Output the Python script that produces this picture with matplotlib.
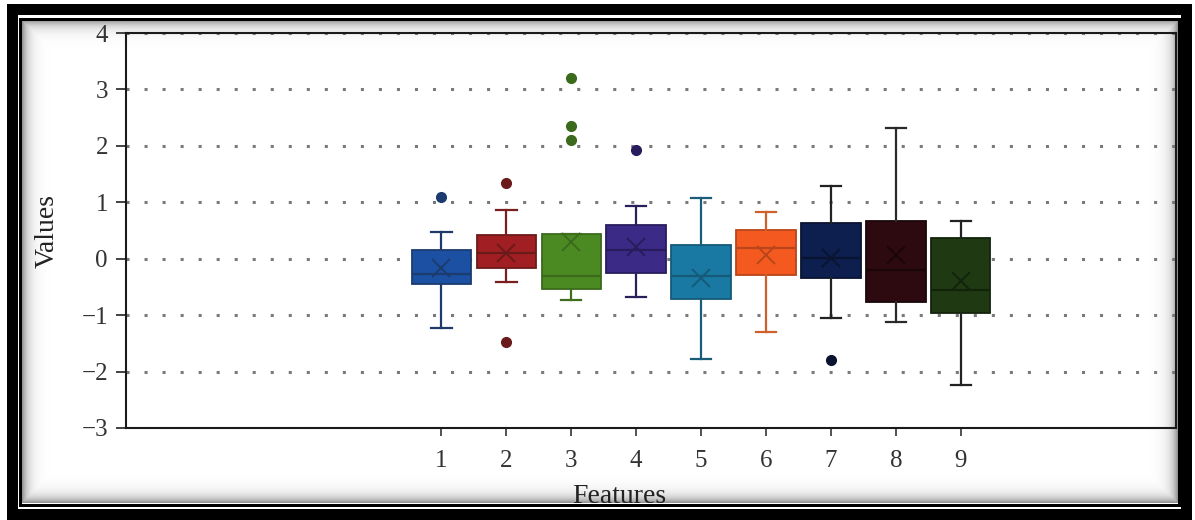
import numpy as np
import matplotlib
matplotlib.use('Agg')
import matplotlib.pyplot as plt
from matplotlib.patches import Rectangle

# box statistics
features = [1, 2, 3, 4, 5, 6, 7, 8, 9]
q1 = [-0.44, -0.17, -0.53, -0.25, -0.71, -0.28, -0.34, -0.77, -0.97]
med = [-0.27, 0.11, -0.31, 0.16, -0.31, 0.19, 0.02, -0.20, -0.55]
q3 = [0.16, 0.42, 0.43, 0.60, 0.24, 0.51, 0.64, 0.67, 0.36]
whislo = [-1.23, -0.41, -0.74, -0.68, -1.78, -1.30, -1.05, -1.12, -2.24]
whishi = [0.48, 0.87, 0.43, 0.93, 1.07, 0.82, 1.28, 2.32, 0.66]
means = [-0.17, 0.11, 0.30, 0.20, -0.35, 0.06, 0.02, 0.06, -0.40]
fliers = [[1.10], [1.35, -1.47], [3.21, 2.35, 2.10], [1.93], [], [], [-1.79], [], []]
yticks = [-3, -2, -1, 0, 1, 2, 3, 4]

fill_c = ['#1b50a3', '#a11f22', '#4b8a22', '#3b2a86', '#1a79a2',
          '#f45a1f', '#0c1f4e', '#2d0a0f', '#1f3a12']
edge_c = ['#1c3b6e', '#6b1a1a', '#3b6a1c', '#291c5c', '#155a78',
          '#b8461a', '#0a1430', '#1a0609', '#12230b']
whisk_c = ['#1e3b6a', '#7a1f1f', '#3f6e1f', '#2a1f5a', '#1b5c78',
           '#d0602a', '#222222', '#2a2a2a', '#222222']

plt.rcParams['font.family'] = ['Liberation Serif', 'DejaVu Serif']

fig = plt.figure(figsize=(11.95, 5.2), dpi=100)
W, H = 1195.0, 520.0

# soft grey shadow inside the frame
bg = fig.add_axes([22 / W, 1 - 503 / H, 1156 / W, 483 / H], zorder=0)
yy, xx = np.mgrid[0:483, 0:1156]
d = np.minimum(np.minimum(xx, 1155 - xx), np.minimum(yy, 482 - yy))
shade = 1 - 0.42 * np.exp(-d / 6.0)
bg.imshow(shade, cmap='gray', vmin=0, vmax=1, aspect='auto', interpolation='bilinear')
bg.axis('off')

ax = fig.add_axes([126 / W, 1 - 428 / H, 1050 / W, 395 / H], zorder=2)
ax.set_facecolor('none')

stats = []
for i in range(len(features)):
    stats.append(dict(med=med[i], q1=q1[i], q3=q3[i], whislo=whislo[i],
                      whishi=whishi[i], mean=means[i], fliers=fliers[i]))

for i, s in enumerate(stats):
    ax.bxp([s], positions=[features[i]], widths=0.91, patch_artist=True,
           showmeans=True, capwidths=0.32,
           boxprops=dict(facecolor=fill_c[i], edgecolor=edge_c[i], linewidth=1.3),
           medianprops=dict(color=edge_c[i], linewidth=1.6),
           whiskerprops=dict(color=whisk_c[i], linewidth=1.6),
           capprops=dict(color=whisk_c[i], linewidth=1.6),
           meanprops=dict(marker='x', markeredgecolor=edge_c[i], markersize=13,
                          markeredgewidth=1.4),
           flierprops=dict(marker='o', markerfacecolor=edge_c[i],
                           markeredgecolor=edge_c[i], markersize=7))

ax.set_xlim(-3.85, 12.31)
ax.set_ylim(-3, 4)
ax.set_xticks(features)
ax.set_xticklabels([str(f) for f in features])
ax.set_yticks(yticks)
ax.set_yticklabels(['\u2212%d' % -t if t < 0 else str(t) for t in yticks])
ax.grid(axis='y', color='#7a7a7a', linewidth=2.2, linestyle=(0, (1, 4.9)))
ax.set_axisbelow(True)

for sp in ax.spines.values():
    sp.set_linewidth(1.5)
    sp.set_color('#1a1a1a')
ax.tick_params(axis='y', direction='out', length=7, width=1.3, color='#333333',
               labelsize=18, labelcolor='#333333', pad=6)
ax.tick_params(axis='x', direction='out', length=6, width=1.3, color='#444444',
               labelsize=18, labelcolor='#333333', pad=10)

ax.set_ylabel('Values', fontsize=20, color='#222222')
ax.yaxis.set_label_coords(-0.063, 0.5)
ax.set_xlabel('Features', fontsize=20, color='#222222')
ax.xaxis.set_label_coords(0.4695, -0.142)

# double black frame around the picture
ov = fig.add_axes([0, 0, 1, 1], zorder=10)
ov.set_facecolor('none')
ov.set_xlim(0, W)
ov.set_ylim(H, 0)
ov.axis('off')
ov.add_patch(Rectangle((12, 8.5), 1174.5, 505.5, fill=False, edgecolor='black',
                       linewidth=11 * 0.72, joinstyle='miter'))
ov.add_patch(Rectangle((20.5, 18.5), 1159, 486, fill=False, edgecolor='black',
                       linewidth=3 * 0.72, joinstyle='miter'))

fig.savefig('out.png', dpi=100)
